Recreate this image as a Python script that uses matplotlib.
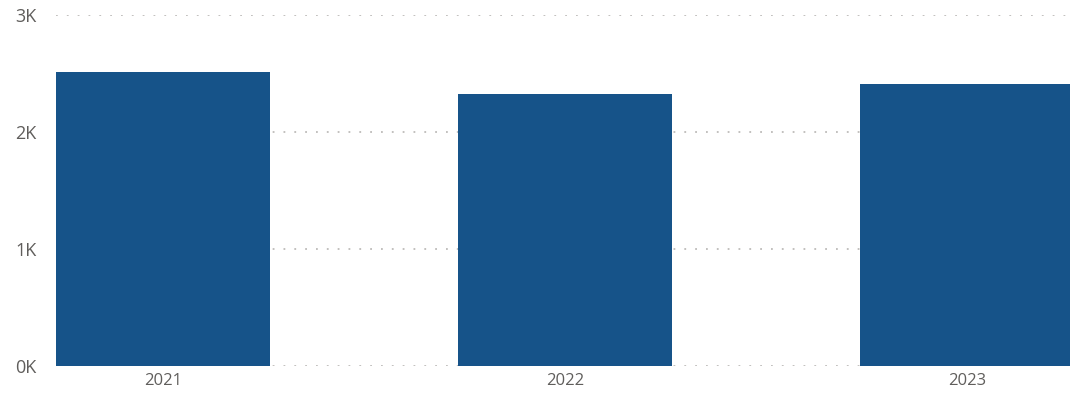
import matplotlib.pyplot as plt
from matplotlib.ticker import FuncFormatter

years = ["2021", "2022", "2023"]
values = [2510, 2325, 2410]
y_ticks = [0, 1000, 2000, 3000]

bar_color = "#165389"
text_color = "#605E5C"

plt.rcParams["font.family"] = ["Open Sans", "DejaVu Sans"]

fig = plt.figure(figsize=(10.7, 3.96), dpi=100)
ax = fig.add_axes([0.0523, 0.0758, 0.9477, 0.8862])

x = list(range(len(years)))
ax.bar(x, values, width=0.532, color=bar_color, zorder=3)

ax.set_xlim(-0.266, 2.256)
ax.set_ylim(0, 3000)
ax.set_xticks(x)
ax.set_xticklabels(years)
ax.set_yticks(y_ticks)
ax.yaxis.set_major_formatter(FuncFormatter(lambda v, p: "%dK" % (v / 1000)))

ax.grid(axis="y", linestyle=(0, (1, 5)), color="#BDBBB9", linewidth=1.3, zorder=0)
for s in ax.spines.values():
    s.set_visible(False)
ax.tick_params(axis="both", length=0, colors=text_color)
ax.tick_params(axis="x", labelsize=12, pad=5)
ax.tick_params(axis="y", labelsize=13, pad=14)

fig.savefig("out.png", dpi=100)
